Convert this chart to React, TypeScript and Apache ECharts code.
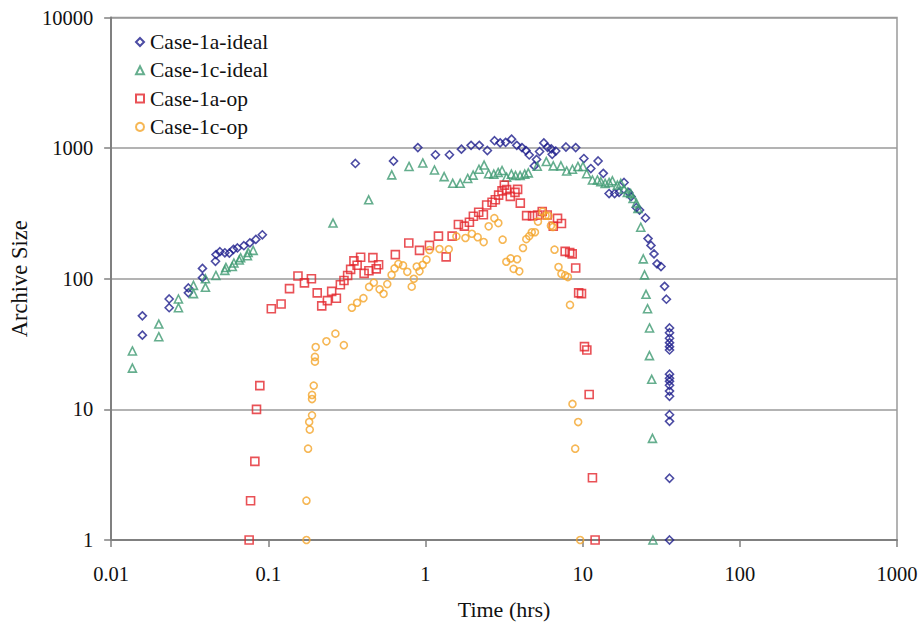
import React, { useEffect, useRef } from "react";
import * as echarts from "echarts";

// Series names (legend order)
const seriesNames = ["Case-1a-ideal", "Case-1c-ideal", "Case-1a-op", "Case-1c-op"];

// [time (hrs), archive size]
const case1aIdeal: [number, number][] = [
  [0.0158, 52], [0.0158, 37], [0.0234, 70], [0.0234, 60], [0.031, 85], [0.031, 78],
  [0.0381, 120], [0.0381, 102], [0.0461, 136], [0.0465, 153], [0.0492, 161], [0.0529, 158],
  [0.0565, 157], [0.06, 168], [0.0636, 172], [0.0699, 179], [0.0763, 188], [0.0833, 200],
  [0.0916, 217],
  [0.358, 763], [0.626, 797], [0.894, 1009], [1.157, 889], [1.42, 889], [1.693, 982],
  [1.95, 1050], [2.2, 1050], [2.476, 959], [2.75, 1139], [2.985, 1098], [3.235, 1107],
  [3.53, 1171], [3.81, 1050], [4.11, 1009], [4.36, 957], [4.57, 886], [5.09, 819],
  [4.92, 731], [5.32, 942], [5.66, 1096], [5.98, 1014], [6.31, 988], [6.74, 950],
  [6.4, 897], [7.83, 1020], [9.03, 1009], [10.18, 832], [11.27, 698], [12.54, 797],
  [13.53, 641], [14.73, 449], [15.97, 449], [17.05, 458], [18.34, 546], [19.6, 458],
  [20.32, 426], [21.96, 351], [23.01, 336], [25.1, 292], [26.06, 203], [27.2, 180],
  [28.44, 155], [29.72, 130], [31.5, 124], [33.2, 87.5], [34.1, 69.7],
  [35.7, 42], [35.7, 38.6], [35.7, 35], [35.7, 32.4], [35.7, 30.2], [35.7, 28.5],
  [35.7, 18.6], [35.7, 17.3], [35.7, 16.4], [35.7, 15.3], [35.7, 13.8], [35.7, 12.6],
  [35.7, 9.1], [35.7, 8.1], [35.7, 2.97], [35.7, 1],
];

const case1cIdeal: [number, number][] = [
  [0.01365, 20.7], [0.01365, 28], [0.0201, 36], [0.0201, 45], [0.0268, 60], [0.0268, 70],
  [0.0334, 77], [0.0334, 89], [0.0398, 86], [0.0398, 100], [0.0464, 106], [0.0529, 116],
  [0.0537, 122], [0.059, 124], [0.0604, 132], [0.0653, 139], [0.0666, 145], [0.0736, 150],
  [0.0744, 159], [0.0801, 165],
  [0.258, 267], [0.435, 402], [0.61, 624], [0.786, 724], [0.961, 770], [1.141, 680],
  [1.314, 605], [1.49, 538], [1.663, 538], [1.856, 586], [2.01, 621], [2.19, 689],
  [2.36, 742], [2.52, 637], [2.72, 632], [2.9, 651], [3.07, 674], [3.28, 599],
  [3.52, 632], [3.74, 617], [4.0, 617], [4.28, 632], [4.51, 646], [5.14, 727],
  [5.87, 789], [6.5, 731], [7.27, 731], [7.91, 669], [8.61, 689], [9.33, 724],
  [10.04, 724], [10.6, 637], [11.54, 570], [12.42, 570], [13.05, 554], [13.9, 537],
  [14.73, 546], [15.46, 562], [16.63, 521], [17.48, 537], [18.34, 486], [19.25, 458],
  [20.23, 449], [20.93, 411], [21.96, 380], [22.5, 346], [23.42, 248], [24.3, 142],
  [24.76, 107], [25.3, 76], [25.86, 59], [26.63, 42], [26.6, 25.8], [27.5, 17],
  [27.8, 6], [28.0, 1],
];

const case1aOp: [number, number][] = [
  [0.0755, 1], [0.0771, 2], [0.0821, 4], [0.0841, 10], [0.0883, 15.2], [0.1045, 59],
  [0.1206, 64], [0.1364, 84], [0.1544, 105], [0.1698, 93], [0.188, 100], [0.2047, 78],
  [0.2187, 62], [0.2376, 68], [0.253, 80], [0.271, 71], [0.2873, 90], [0.303, 97],
  [0.3196, 106], [0.334, 118], [0.3505, 137], [0.3673, 127], [0.3867, 146], [0.407, 110],
  [0.4365, 115], [0.4628, 145], [0.486, 119], [0.503, 128], [0.643, 153], [0.783, 188],
  [0.916, 165], [1.06, 180], [1.209, 212], [1.353, 147], [1.477, 212], [1.62, 260],
  [1.768, 253], [1.903, 271], [2.017, 301], [2.18, 323], [2.335, 309], [2.45, 367],
  [2.652, 385], [2.783, 403], [2.92, 437], [3.069, 471], [3.175, 521], [3.28, 481],
  [3.465, 427], [3.71, 458], [3.855, 483], [4.01, 379], [4.4, 304], [4.8, 303],
  [5.16, 307], [5.53, 327], [5.95, 308], [6.5, 252], [6.92, 290], [7.33, 265],
  [7.74, 162], [8.27, 159], [8.58, 155], [9.03, 121], [9.43, 78], [9.83, 77],
  [10.27, 30.2], [10.63, 28.5], [11.0, 13], [11.54, 3], [12.0, 1],
];

const case1cOp: [number, number][] = [
  [0.1748, 1], [0.1748, 2], [0.179, 5.0], [0.1835, 7.0], [0.182, 8.0], [0.1897, 9.0],
  [0.1897, 12.0], [0.1897, 12.9], [0.1945, 15.2], [0.198, 23.2], [0.198, 25.2], [0.2002, 30],
  [0.2342, 33.2], [0.2672, 38], [0.3024, 31], [0.34, 60], [0.3673, 65.5], [0.4028, 71],
  [0.4377, 86.6], [0.469, 93.4], [0.5105, 83], [0.5412, 76.7], [0.5713, 91], [0.6083, 107],
  [0.6356, 120], [0.672, 130], [0.7197, 126.5], [0.766, 113], [0.8172, 87], [0.843, 100],
  [0.8794, 124], [0.916, 114], [0.96, 128], [1.015, 140], [1.06, 166], [1.227, 169],
  [1.406, 168], [1.573, 211], [1.795, 205], [1.973, 221], [2.148, 208], [2.345, 191],
  [2.523, 252], [2.742, 291], [2.908, 267], [3.096, 199], [3.268, 135], [3.48, 143],
  [3.636, 119], [3.827, 141], [3.952, 114], [4.172, 172], [4.378, 201], [4.574, 212],
  [4.745, 227], [4.972, 227], [5.195, 274], [5.556, 326], [5.805, 304], [6.065, 303],
  [6.28, 255], [6.468, 249], [6.622, 167], [7.02, 123], [7.325, 109], [7.74, 106],
  [8.054, 103], [8.306, 63], [8.614, 11], [8.964, 5], [9.363, 8], [9.64, 1],
];

const FONT = "'Liberation Serif', 'Times New Roman', serif";

const fmt = (v: number) => String(Number(v.toPrecision(4)));

export default function App() {
  const ref = useRef<HTMLDivElement>(null);

  useEffect(() => {
    if (!ref.current) return;
    const chart = echarts.init(ref.current, null, { renderer: "svg" });

    const mk = (name: string, data: [number, number][], symbol: string, size: number, color: string) => ({
      name,
      type: "scatter",
      data,
      symbol,
      symbolSize: size,
      symbolKeepAspect: true,
      itemStyle: { color: "rgba(0,0,0,0)", borderColor: color, borderWidth: 1.6 },
      emphasis: { disabled: true },
    });

    chart.setOption({
      animation: false,
      backgroundColor: "#ffffff",
      grid: {
        left: 111,
        right: 25,
        top: 17.5,
        bottom: 82.3,
        show: true,
        borderColor: "#9a9a9a",
        borderWidth: 1.5,
        backgroundColor: "transparent",
      },
      legend: {
        orient: "vertical",
        left: 130,
        top: 26,
        itemWidth: 8,
        itemHeight: 8,
        itemGap: 6.3,
        data: seriesNames,
        textStyle: { fontFamily: FONT, fontSize: 21.5, color: "#111", padding: [0, 0, 0, 1] },
      },
      xAxis: {
        type: "log",
        logBase: 10,
        min: 0.01,
        max: 1000,
        name: "Time (hrs)",
        nameLocation: "middle",
        nameGap: 58,
        nameTextStyle: { fontFamily: FONT, fontSize: 22, color: "#111" },
        axisLine: { show: true, lineStyle: { color: "#808080", width: 2 } },
        axisTick: { show: true, inside: false, length: 7, lineStyle: { color: "#808080", width: 1.5 } },
        axisLabel: { fontFamily: FONT, fontSize: 20.5, color: "#111", margin: 23, formatter: fmt },
        splitLine: { show: false },
        minorTick: { show: false },
      },
      yAxis: {
        type: "log",
        logBase: 10,
        min: 1,
        max: 10000,
        name: "Archive Size",
        nameLocation: "middle",
        nameGap: 79,
        nameTextStyle: { fontFamily: FONT, fontSize: 22.5, color: "#111" },
        axisLine: { show: true, lineStyle: { color: "#808080", width: 2 } },
        axisTick: { show: true, inside: false, length: 7, lineStyle: { color: "#808080", width: 1.5 } },
        axisLabel: { fontFamily: FONT, fontSize: 20.5, color: "#111", margin: 18, formatter: fmt },
        splitLine: { show: true, lineStyle: { color: "#9a9a9a", width: 1.5 } },
      },
      series: [
        mk(seriesNames[0], case1aIdeal, "diamond", 8, "#1e1e8c"),
        mk(seriesNames[1], case1cIdeal, "triangle", 8, "#3f9a72"),
        mk(seriesNames[2], case1aOp, "rect", 8, "#e3262c"),
        mk(seriesNames[3], case1cOp, "circle", 7, "#f4a52a"),
      ],
    });

    return () => chart.dispose();
  }, []);

  return (
    <div
      ref={ref}
      style={{ position: "fixed", left: 0, top: 0, width: 922, height: 625, background: "#fff" }}
    />
  );
}
